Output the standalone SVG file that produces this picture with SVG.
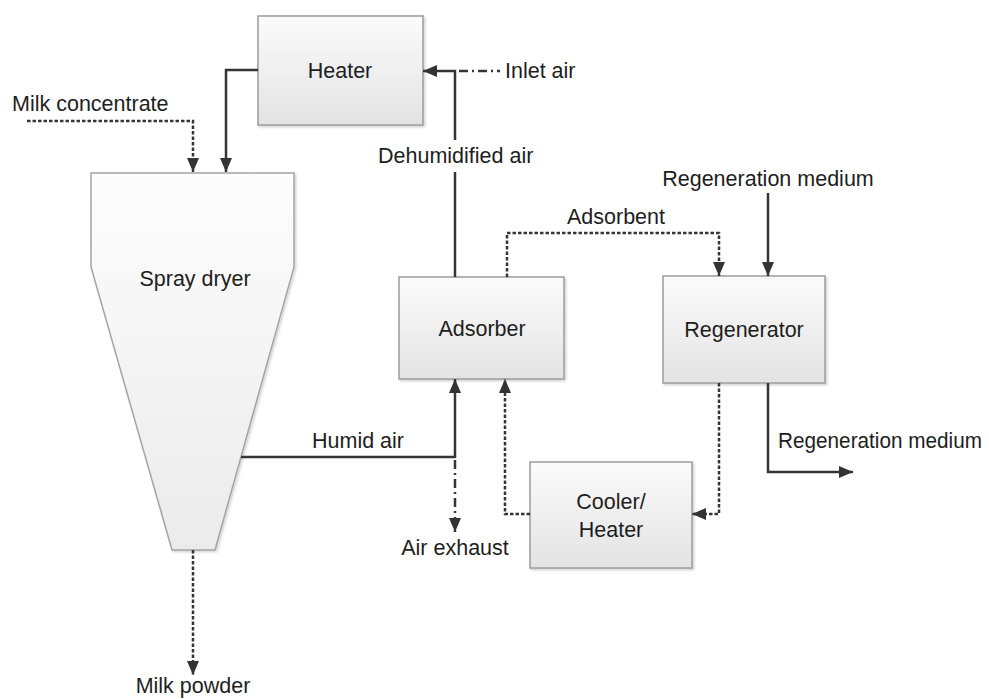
<svg xmlns="http://www.w3.org/2000/svg" width="989" height="699" viewBox="0 0 989 699">
  <defs>
    <linearGradient id="boxFill" x1="0" y1="0" x2="0" y2="1">
      <stop offset="0" stop-color="#fbfbfb"/>
      <stop offset="1" stop-color="#e3e3e3"/>
    </linearGradient>
    <linearGradient id="dryerFill" x1="0" y1="0" x2="0" y2="1">
      <stop offset="0" stop-color="#fdfdfd"/>
      <stop offset="1" stop-color="#ebebeb"/>
    </linearGradient>
    <filter id="shadow" x="-10%" y="-10%" width="125%" height="125%">
      <feDropShadow dx="1.5" dy="1.5" stdDeviation="1" flood-color="#000" flood-opacity="0.18"/>
    </filter>
    <marker id="arrow" viewBox="0 0 14 12" refX="14" refY="6" markerWidth="14" markerHeight="12" markerUnits="userSpaceOnUse" orient="auto">
      <path d="M0,0 L14,6 L0,12 Z" fill="#333"/>
    </marker>
  </defs>
  <style>
    .box { fill: url(#boxFill); stroke: #9c9c9c; stroke-width: 1.5; filter: url(#shadow); }
    .dryer { fill: url(#dryerFill); stroke: #a4a4a4; stroke-width: 1.5; filter: url(#shadow); }
    .lbl { font-family: "Liberation Sans", Arial, sans-serif; font-size: 21.5px; fill: #1e1e1e; }
    .mid { text-anchor: middle; }
    .flow { fill: none; stroke: #353535; stroke-width: 2.5; }
    .dotted { stroke-dasharray: 3.5 2; }
    .dashdot { stroke-dasharray: 9 4 2 4; }
    .head { marker-end: url(#arrow); }
  </style>

  <rect width="989" height="699" fill="#ffffff"/>

  <!-- process units -->
  <g id="heater">
    <rect class="box" x="258" y="16" width="165" height="109"/>
    <text class="lbl mid" x="340" y="78">Heater</text>
  </g>
  <g id="spray-dryer">
    <path class="dryer" d="M91,173 L294,173 L294,267 L215,550 L172,550 L91,267 Z"/>
    <text class="lbl mid" x="195" y="286">Spray dryer</text>
  </g>
  <g id="adsorber">
    <rect class="box" x="399" y="277" width="165" height="102"/>
    <text class="lbl mid" x="482" y="336">Adsorber</text>
  </g>
  <g id="regenerator">
    <rect class="box" x="663" y="276" width="162" height="107"/>
    <text class="lbl mid" x="744" y="337">Regenerator</text>
  </g>
  <g id="cooler-heater">
    <rect class="box" x="530" y="462" width="162" height="106"/>
    <text class="lbl mid" x="611" y="509">Cooler/</text>
    <text class="lbl mid" x="611" y="537">Heater</text>
  </g>

  <!-- streams between units -->
  <g id="connectors">
    <!-- hot air from heater into dryer -->
    <path class="flow head" d="M258,70 L226,70 L226,172"/>
    <!-- milk concentrate feed -->
    <path class="flow dotted head" d="M27,121 L193,121 L193,172"/>
    <!-- dehumidified air back to heater -->
    <path class="flow" d="M455,277 L455,172"/>
    <path class="flow head" d="M455,140 L455,71 L423,71"/>
    <!-- make-up inlet air -->
    <path class="flow dashdot" d="M459,71 L500,71"/>
    <!-- humid air from dryer to adsorber -->
    <path class="flow" d="M241,457 L455,457"/>
    <path class="flow head" d="M455,458 L455,379"/>
    <!-- exhaust branch -->
    <path class="flow dashdot head" d="M455,460 L455,532"/>
    <!-- loaded adsorbent to regenerator -->
    <path class="flow dotted head" d="M507,277 L507,233 L719,233 L719,276"/>
    <!-- regeneration medium in -->
    <path class="flow head" d="M768,193 L768,276"/>
    <!-- regeneration medium out -->
    <path class="flow head" d="M768,383 L768,472 L853,472"/>
    <!-- regenerated adsorbent to cooler/heater -->
    <path class="flow dotted head" d="M719,383 L719,514 L692,514"/>
    <!-- conditioned adsorbent back to adsorber -->
    <path class="flow dotted head" d="M530,514 L505,514 L505,379"/>
    <!-- milk powder discharge -->
    <path class="flow dotted head" d="M193,550 L193,675"/>
  </g>

  <!-- stream labels -->
  <g id="labels">
    <text class="lbl" x="12" y="111">Milk concentrate</text>
    <text class="lbl" x="505" y="78">Inlet air</text>
    <text class="lbl" x="378" y="163">Dehumidified air</text>
    <text class="lbl mid" x="768" y="186">Regeneration medium</text>
    <text class="lbl" x="567" y="224">Adsorbent</text>
    <text class="lbl" x="312" y="448">Humid air</text>
    <text class="lbl" x="778" y="448" textLength="204" lengthAdjust="spacingAndGlyphs">Regeneration medium</text>
    <text class="lbl mid" x="455" y="555">Air exhaust</text>
    <text class="lbl mid" x="193" y="693">Milk powder</text>
  </g>
</svg>
